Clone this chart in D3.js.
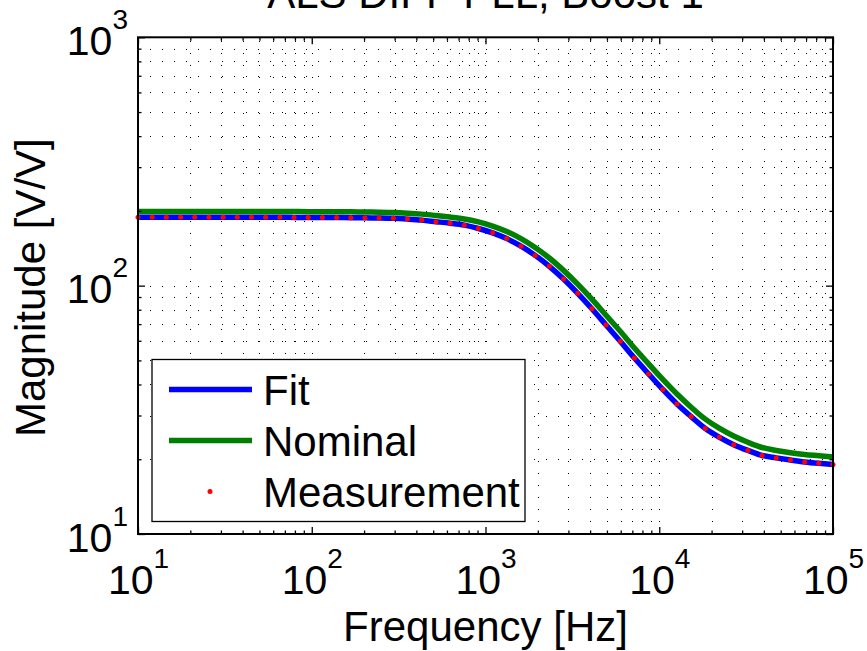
<!DOCTYPE html>
<html>
<head>
<meta charset="utf-8">
<script src="https://cdn.jsdelivr.net/npm/d3@7"></script>
<style>
  html, body { margin: 0; padding: 0; background: #fff; }
  svg { display: block; font-family: "Liberation Sans", Arial, Helvetica, sans-serif; }
</style>
</head>
<body>
<svg id="chart" width="867" height="651"></svg>
<script>
// ---- data ----
const titleText = "ALS DIFF PLL, Boost 1";
const xLabel = "Frequency [Hz]";
const yLabel = "Magnitude [V/V]";
const seriesNames = ["Fit", "Nominal", "Measurement"];

const freq = [10, 12.07, 14.56, 17.58, 21.21, 25.6, 30.89, 37.28, 44.98, 54.29,
  65.51, 79.06, 95.41, 115.1, 139.0, 167.7, 202.4, 244.2, 294.7, 355.6,
  429.2, 518.0, 625.1, 754.3, 910.3, 1098.5, 1325.7, 1599.9, 1930.7, 2330,
  2811.8, 3393.2, 4094.9, 4941.7, 5963.6, 7196.9, 8685.1, 10481, 12649, 15264,
  18421, 22230, 26827, 32375, 39069, 47149, 56899, 68665, 82864, 100000];

const fitMag = [188.6, 188.6, 188.6, 188.6, 188.6, 188.6, 188.5, 188.5, 188.5, 188.4,
  188.4, 188.3, 188.2, 188.1, 188.0, 187.8, 187.5, 187.2, 186.6, 185.3,
  183.6, 181.0, 178.4, 175.2, 169.9, 163.2, 154.7, 144.2, 132.4, 119.6,
  106.3, 93.1, 80.7, 69.4, 59.7, 51.1, 44.1, 38.2, 33.4, 29.7,
  26.6, 24.5, 22.9, 21.7, 20.7, 20.25, 19.85, 19.5, 19.25, 19.05];

const nominalMag = [199.0, 199.0, 199.0, 199.0, 199.0, 198.9, 198.9, 198.9, 198.9, 198.8,
  198.8, 198.7, 198.6, 198.5, 198.4, 198.2, 197.9, 197.6, 197.0, 195.8,
  194.1, 191.6, 188.8, 185.6, 180.5, 173.7, 165.2, 154.6, 142.4, 129.2,
  115.2, 101.4, 88.2, 76.0, 65.5, 56.1, 48.4, 41.9, 36.6, 32.4,
  29.0, 26.6, 24.8, 23.4, 22.3, 21.7, 21.25, 20.9, 20.65, 20.4];

const measMag = [188.6, 188.6, 188.6, 188.6, 188.6, 188.6, 188.5, 188.5, 188.5, 188.4,
  188.4, 188.3, 188.2, 188.1, 188.0, 187.8, 187.5, 187.2, 186.6, 185.3,
  183.6, 181.0, 178.4, 175.2, 169.9, 163.2, 154.7, 144.2, 132.4, 119.6,
  106.3, 93.1, 80.7, 69.4, 59.7, 51.1, 44.1, 38.2, 33.4, 29.7,
  26.6, 24.5, 22.9, 21.7, 20.7, 20.25, 19.85, 19.5, 19.25, 19.05];

const xDomain = [10, 100000];
const yDomain = [10, 1000];
const xMajorTicks = [10, 100, 1000, 10000, 100000];
const yMajorTicks = [10, 100, 1000];
const colors = { fit: "#0000ff", nominal: "#008000", meas: "#ff0000" };

// ---- layout ----
const L = 138, R = 833, T = 37.3, B = 534;
const fontSize = 42, tickFont = 41, supSize = 28;

const svg = d3.select("#chart");
svg.append("rect").attr("width", 867).attr("height", 651).attr("fill", "#fff");

const x = d3.scaleLog().domain(xDomain).range([L, R]);
const y = d3.scaleLog().domain(yDomain).range([B, T]);

function minorOf(domain) {
  const out = [];
  for (let d = domain[0]; d < domain[1]; d *= 10) {
    for (let k = 2; k <= 9; k++) out.push(d * k);
  }
  return out;
}
const xMinor = minorOf(xDomain);
const yMinor = minorOf(yDomain);

// ---- grid (dotted) ----
const grid = svg.append("g").attr("stroke", "#000").attr("stroke-width", 1)
  .attr("stroke-dasharray", "1,11").attr("fill", "none");
const xGridVals = xMinor.concat(xMajorTicks.slice(1, -1));
const yGridVals = yMinor.concat(yMajorTicks.slice(1, -1));
grid.selectAll("line.vx").data(xGridVals).join("line")
  .attr("x1", d => Math.round(x(d)) + 0.5).attr("x2", d => Math.round(x(d)) + 0.5)
  .attr("y1", B).attr("y2", T);
grid.selectAll("line.hy").data(yGridVals).join("line")
  .attr("y1", d => Math.round(y(d)) + 0.5).attr("y2", d => Math.round(y(d)) + 0.5)
  .attr("x1", L).attr("x2", R);

// ---- series ----
const line = d3.line().x(d => x(d[0])).y(d => y(d[1])).curve(d3.curveCatmullRom);
svg.append("path").datum(freq.map((f, i) => [f, fitMag[i]]))
  .attr("d", line).attr("fill", "none").attr("stroke", colors.fit).attr("stroke-width", 5.5);
svg.append("path").datum(freq.map((f, i) => [f, nominalMag[i]]))
  .attr("d", line).attr("fill", "none").attr("stroke", colors.nominal).attr("stroke-width", 5.5);
svg.append("g").selectAll("circle").data(freq.map((f, i) => [f, measMag[i]])).join("circle")
  .attr("cx", d => x(d[0])).attr("cy", d => y(d[1])).attr("r", 2.5).attr("fill", colors.meas);

// ---- axes (ticks inside) ----
const majLen = 7, minLen = 3.5;
function styleAxis(g) {
  g.select(".domain").remove();
  g.selectAll(".tick line").attr("stroke", "#000").attr("stroke-width", 1.3);
}
function powLabels(g, isX) {
  g.selectAll(".tick text").each(function (d) {
    const t = d3.select(this);
    t.text(null).attr("fill", "#000").attr("font-size", tickFont).attr("dy", null)
      .attr("font-family", "Liberation Sans, Arial, Helvetica, sans-serif");
    if (isX) t.attr("y", 60).attr("text-anchor", "middle");
    else t.attr("x", -10).attr("y", 17).attr("text-anchor", "end");
    t.append("tspan").text("10");
    t.append("tspan").attr("font-size", supSize).attr("dy", -26).text(Math.round(Math.log10(d)));
  });
}
// bottom
svg.append("g").attr("transform", `translate(0,${B})`)
  .call(d3.axisBottom(x).tickValues(xMinor).tickSize(-minLen).tickFormat(""))
  .call(styleAxis);
svg.append("g").attr("transform", `translate(0,${B})`)
  .call(d3.axisBottom(x).tickValues(xMajorTicks).tickSize(-majLen))
  .call(styleAxis).call(g => powLabels(g, true));
// top
svg.append("g").attr("transform", `translate(0,${T})`)
  .call(d3.axisTop(x).tickValues(xMinor).tickSize(-minLen).tickFormat(""))
  .call(styleAxis);
svg.append("g").attr("transform", `translate(0,${T})`)
  .call(d3.axisTop(x).tickValues(xMajorTicks).tickSize(-majLen).tickFormat(""))
  .call(styleAxis);
// left
svg.append("g").attr("transform", `translate(${L},0)`)
  .call(d3.axisLeft(y).tickValues(yMinor).tickSize(-minLen).tickFormat(""))
  .call(styleAxis);
svg.append("g").attr("transform", `translate(${L},0)`)
  .call(d3.axisLeft(y).tickValues(yMajorTicks).tickSize(-majLen))
  .call(styleAxis).call(g => powLabels(g, false));
// right
svg.append("g").attr("transform", `translate(${R},0)`)
  .call(d3.axisRight(y).tickValues(yMinor).tickSize(-minLen).tickFormat(""))
  .call(styleAxis);
svg.append("g").attr("transform", `translate(${R},0)`)
  .call(d3.axisRight(y).tickValues(yMajorTicks).tickSize(-majLen).tickFormat(""))
  .call(styleAxis);

// frame
svg.append("rect").attr("x", L).attr("y", T).attr("width", R - L).attr("height", B - T)
  .attr("fill", "none").attr("stroke", "#000").attr("stroke-width", 2);

// ---- labels ----
svg.append("text").attr("x", (L + R) / 2).attr("y", 8).attr("text-anchor", "middle")
  .attr("font-size", fontSize).attr("fill", "#000").text(titleText);
svg.append("text").attr("x", (L + R) / 2).attr("y", 641).attr("text-anchor", "middle")
  .attr("font-size", fontSize).attr("fill", "#000").text(xLabel);
svg.append("text").attr("transform", `translate(45,${(T + B) / 2 + 2}) rotate(-90)`)
  .attr("text-anchor", "middle").attr("font-size", fontSize).attr("fill", "#000").text(yLabel);

// ---- legend ----
const lg = svg.append("g");
lg.append("rect").attr("x", 152).attr("y", 359.5).attr("width", 373).attr("height", 162)
  .attr("fill", "#fff").attr("stroke", "#000").attr("stroke-width", 1.3);
const legendRows = [
  { name: seriesNames[0], color: colors.fit, type: "line" },
  { name: seriesNames[1], color: colors.nominal, type: "line" },
  { name: seriesNames[2], color: colors.meas, type: "dot" }
];
legendRows.forEach((r, i) => {
  const cy = 389.5 + i * 51;
  if (r.type === "line") {
    lg.append("line").attr("x1", 169).attr("x2", 252).attr("y1", cy).attr("y2", cy)
      .attr("stroke", r.color).attr("stroke-width", 5.5);
  } else {
    lg.append("circle").attr("cx", 210).attr("cy", cy).attr("r", 2.5).attr("fill", r.color);
  }
  lg.append("text").attr("x", 263).attr("y", cy + 15).attr("font-size", fontSize)
    .attr("fill", "#000").text(r.name);
});
</script>
</body>
</html>
